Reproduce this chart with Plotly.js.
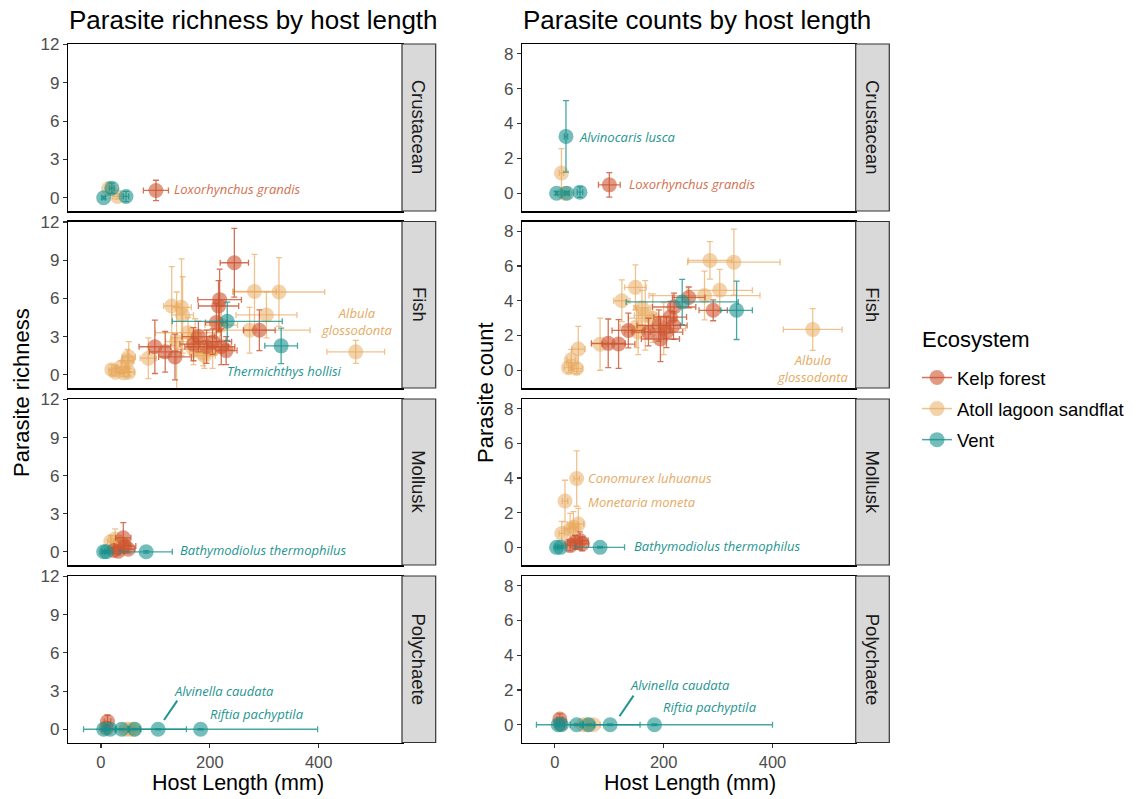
<!DOCTYPE html>
<html>
<head>
<meta charset="utf-8">
<script src="https://cdn.plot.ly/plotly-3.0.1.min.js"></script>
<style>html,body{margin:0;padding:0;background:#fff;}#chart{width:1138px;height:799px;}</style>
</head>
<body>
<div id="chart"></div>
<script>
// ---------------- DATA ----------------
const facets = ['Crustacean', 'Fish', 'Mollusk', 'Polychaete'];
const ecosystems = ['Kelp forest', 'Atoll lagoon sandflat', 'Vent'];
const xTickVals = [0, 200, 400];
const richTickVals = [0, 3, 6, 9, 12];
const countTickVals = [0, 2, 4, 6, 8];

// Parasite richness (left column)
const richKelpTaxon = ['Crustacean','Fish','Fish','Fish','Fish','Fish','Fish','Fish','Fish','Fish','Fish','Fish','Fish','Fish','Fish','Mollusk','Mollusk','Mollusk','Mollusk','Mollusk','Polychaete','Polychaete'];
const richKelpLen   = [101, 245, 218, 216, 212, 291, 99, 118, 136, 179, 194, 221, 205, 230, 170, 41, 32, 44, 24, 50, 12, 10];
const richKelpLenSD = [23, 26, 40, 37, 20, 29, 29, 29, 30, 30, 40, 25, 35, 20, 25, 14, 10, 20, 8, 12, 6, 5];
const richKelpVal   = [0.57, 8.8, 5.9, 5.4, 4.1, 3.5, 2.2, 1.8, 1.4, 3.0, 2.2, 2.2, 2.6, 1.9, 2.4, 1.1, 0.05, 0.45, 0.1, 0.2, 0.6, 0.1];
const richKelpSD    = [0.8, 2.7, 2.4, 2.0, 1.5, 1.6, 2.1, 1.6, 1.8, 1.2, 1.3, 1.4, 1.0, 1.1, 1.3, 1.2, 0.3, 0.4, 0.2, 0.3, 0.5, 0.2];

const richAtollTaxon = ['Crustacean','Crustacean','Fish','Fish','Fish','Fish','Fish','Fish','Fish','Fish','Fish','Fish','Fish','Fish','Fish','Fish','Fish','Fish','Fish','Fish','Fish','Fish','Fish','Fish','Fish','Fish','Mollusk','Mollusk','Mollusk','Mollusk','Mollusk','Polychaete','Polychaete','Polychaete'];
const richAtollLen   = [14, 30, 27, 42, 51, 37, 49, 51, 20, 87, 130, 148, 150, 139, 173, 170, 188, 205, 282, 327, 304, 273, 468, 221, 190, 160, 26, 35, 29, 42, 18, 53, 60, 45];
const richAtollLenSD = [5, 8, 8, 8, 10, 8, 10, 12, 6, 15, 15, 18, 20, 20, 45, 30, 25, 40, 40, 84, 56, 111, 53, 30, 20, 60, 8, 10, 8, 10, 6, 15, 12, 10];
const richAtollVal   = [0.7, 0.1, 0.2, 0.15, 0.2, 0.6, 1.1, 1.4, 0.4, 1.3, 5.4, 5.3, 4.7, 2.6, 2.9, 2.0, 1.7, 2.0, 6.55, 6.5, 4.7, 3.5, 1.8, 3.9, 1.5, 3.3, 1.0, 0.7, 0.3, 0.6, 0.8, 0, 0, 0];
const richAtollSD    = [0.5, 0.2, 0.3, 0.3, 0.3, 0.5, 0.9, 1.2, 0.4, 1.6, 3.1, 3.8, 3.0, 3.9, 1.5, 1.2, 1.0, 1.5, 2.9, 2.7, 1.8, 1.8, 0.9, 1.5, 1.0, 1.2, 0.8, 0.6, 0.4, 0.5, 0.5, 0.1, 0.1, 0.1];

const richVentTaxon = ['Crustacean','Crustacean','Crustacean','Fish','Fish','Mollusk','Mollusk','Mollusk','Polychaete','Polychaete','Polychaete','Polychaete','Polychaete','Polychaete'];
const richVentLen   = [5, 46, 20, 232, 331, 5, 83, 10, 5, 17, 38, 62, 105, 183];
const richVentLenSD = [3, 5, 4, 101, 30, 3, 48, 3, 3, 10, 12, 10, 52, 215];
const richVentVal   = [0, 0.1, 0.75, 4.2, 2.27, 0, 0, 0, 0, 0, 0, 0, 0, 0];
const richVentSD    = [0.1, 0.4, 0.4, 1.5, 1.4, 0.1, 0.1, 0.1, 0.05, 0.05, 0.05, 0.05, 0.05, 0.05];

// Parasite counts (right column)
const countKelpTaxon = ['Crustacean','Fish','Fish','Fish','Fish','Fish','Fish','Fish','Fish','Fish','Fish','Fish','Fish','Mollusk','Mollusk','Mollusk','Mollusk','Polychaete','Polychaete'];
const countKelpLen   = [100, 246, 219, 291, 212, 135, 98, 117, 194, 191, 218, 172, 205, 46, 28, 37, 50, 9, 10];
const countKelpLenSD = [20, 30, 40, 26, 30, 30, 31, 30, 35, 40, 25, 30, 30, 15, 8, 14, 12, 5, 4];
const countKelpVal   = [0.48, 4.19, 3.64, 3.45, 3.06, 2.29, 1.55, 1.51, 1.8, 2.58, 2.58, 2.2, 2.2, 0.39, 0.1, 0.29, 0.2, 0.33, 0.05];
const countKelpSD    = [0.7, 0.6, 0.8, 0.6, 0.9, 1.0, 1.4, 1.4, 1.3, 0.9, 0.8, 0.8, 0.9, 0.5, 0.3, 0.4, 0.4, 0.3, 0.1];

const countAtollTaxon = ['Crustacean','Crustacean','Fish','Fish','Fish','Fish','Fish','Fish','Fish','Fish','Fish','Fish','Fish','Fish','Fish','Fish','Fish','Fish','Fish','Fish','Mollusk','Mollusk','Mollusk','Mollusk','Mollusk','Mollusk','Polychaete','Polychaete','Polychaete'];
const countAtollLen   = [12, 18, 285, 329, 303, 275, 148, 123, 166, 150, 153, 474, 25, 40, 43, 30, 83, 180, 200, 160, 40, 18.5, 43, 28, 12.6, 34, 52, 71, 60];
const countAtollLenSD = [4, 6, 40, 85, 60, 102, 20, 15, 20, 30, 25, 54, 8, 10, 12, 8, 15, 45, 40, 15, 5, 5, 10, 10, 5, 8, 15, 12, 10];
const countAtollVal   = [1.16, 0, 6.32, 6.22, 4.6, 4.3, 4.77, 4.0, 3.16, 2.5, 2.2, 2.35, 0.15, 0.1, 1.22, 0.6, 1.5, 3.0, 2.4, 3.6, 3.97, 2.67, 1.35, 1.06, 0.8, 1.16, 0, 0, 0];
const countAtollSD    = [1.4, 0.1, 1.08, 1.9, 1.2, 1.4, 1.3, 1.2, 2.0, 1.2, 1.3, 1.2, 0.3, 0.3, 1.3, 0.6, 1.5, 1.4, 1.5, 1.0, 1.6, 1.2, 0.9, 0.9, 0.7, 0.9, 0.05, 0.05, 0.05];

const countVentTaxon = ['Crustacean','Crustacean','Crustacean','Crustacean','Fish','Fish','Mollusk','Mollusk','Mollusk','Polychaete','Polychaete','Polychaete','Polychaete','Polychaete','Polychaete'];
const countVentLen   = [20.3, 3, 46, 22, 234, 334, 3, 83, 10, 6, 12, 40, 62, 101.5, 183];
const countVentLenSD = [3, 2, 5, 4, 103, 29, 2, 45, 3, 3, 5, 12, 10, 55, 217];
const countVentVal   = [3.26, 0, 0.06, 0, 3.93, 3.45, 0, 0, 0, 0, 0, 0, 0, 0, 0];
const countVentSD    = [2.05, 0.1, 0.3, 0.1, 1.3, 1.68, 0.05, 0.05, 0.05, 0.05, 0.05, 0.05, 0.05, 0.05, 0.05];

// Species labels
const labelCol   = [0, 0, 0, 0, 0, 0, 1, 1, 1, 1, 1, 1, 1, 1];
const labelFacet = ['Crustacean','Fish','Fish','Mollusk','Polychaete','Polychaete','Crustacean','Crustacean','Fish','Mollusk','Mollusk','Mollusk','Polychaete','Polychaete'];
const labelText  = ['Loxorhynchus grandis','Albula<br>glossodonta','Thermichthys hollisi','Bathymodiolus thermophilus','Alvinella caudata','Riftia pachyptila','Alvinocaris lusca','Loxorhynchus grandis','Albula<br>glossodonta','Conomurex luhuanus','Monetaria moneta','Bathymodiolus thermophilus','Alvinella caudata','Riftia pachyptila'];
const labelX     = [130.5, 469, 227.5, 141.4, 130.5, 196.3, 40.6, 133, 474.4, 57.2, 57.2, 142, 134.8, 195.7];
const labelY     = [0.65, 4.2, 0.29, 0.18, 3.0, 1.2, 3.23, 0.53, 0.1, 3.98, 2.6, 0.07, 2.26, 1.0];
const labelEco   = ['Kelp forest','Atoll lagoon sandflat','Vent','Vent','Vent','Vent','Vent','Kelp forest','Atoll lagoon sandflat','Atoll lagoon sandflat','Atoll lagoon sandflat','Vent','Vent','Vent'];
const labelAlign = ['left','center','left','left','left','left','left','left','center','left','left','left','left','left'];
// leader segments for Alvinella caudata: [x0, y0, x1, y1] per column
const segRich  = [115.8, 0.73, 140.2, 2.25];
const segCount = [118.7, 0.49, 144.5, 1.68];

// ---------------- STYLE ----------------
const W = 1138, H = 799;
const colPx = [[68.3, 402], [522.3, 855.7]];
const stripPx = [[402, 435.7], [855.7, 889.3]];
const rowPx = [[44, 211], [221.5, 388], [399, 565], [576, 742.5]];
const markerCol = {'Kelp forest':'rgba(205,85,50,0.6)','Atoll lagoon sandflat':'rgba(232,168,90,0.5)','Vent':'rgba(24,145,140,0.6)'};
const errCol = {'Kelp forest':'rgba(200,80,45,0.8)','Atoll lagoon sandflat':'rgba(232,170,95,0.7)','Vent':'rgba(24,145,140,0.8)'};
const labelCol2 = {'Kelp forest':'#D4704F','Atoll lagoon sandflat':'#E6AA62','Vent':'#1E9590'};
const FONT = 'Liberation Sans, Arial, Helvetica, sans-serif';

const columns = [
  {ticks: richTickVals, range: [-1.04, 12.04], data: {
    'Kelp forest': [richKelpTaxon, richKelpLen, richKelpLenSD, richKelpVal, richKelpSD],
    'Atoll lagoon sandflat': [richAtollTaxon, richAtollLen, richAtollLenSD, richAtollVal, richAtollSD],
    'Vent': [richVentTaxon, richVentLen, richVentLenSD, richVentVal, richVentSD]}},
  {ticks: countTickVals, range: [-1.02, 8.56], data: {
    'Kelp forest': [countKelpTaxon, countKelpLen, countKelpLenSD, countKelpVal, countKelpSD],
    'Atoll lagoon sandflat': [countAtollTaxon, countAtollLen, countAtollLenSD, countAtollVal, countAtollSD],
    'Vent': [countVentTaxon, countVentLen, countVentLenSD, countVentVal, countVentSD]}}
];

const traces = [];
// legend-only traces
ecosystems.forEach(e => {
  traces.push({type:'scatter', mode:'lines+markers', x:[null], y:[null], name:e, showlegend:true, legendgroup:e,
    marker:{size:15, color:markerCol[e]}, line:{color:errCol[e], width:1.5}, xaxis:'x', yaxis:'y', hoverinfo:'skip'});
});

const layout = {
  width: W, height: H, margin:{l:0, r:0, t:0, b:0},
  paper_bgcolor:'#fff', plot_bgcolor:'#fff',
  font:{family: FONT, color:'#000'},
  showlegend:true,
  legend:{x: 917/W, y: 1 - 359/H, xanchor:'left', yanchor:'top', bgcolor:'rgba(0,0,0,0)',
    font:{size:18.5, color:'#000'}, tracegroupgap:4},
  shapes: [], annotations: []
};

const axName = (p, i) => p + (i === 1 ? '' : i);
const drawOrder = ['Atoll lagoon sandflat', 'Kelp forest', 'Vent'];

for (let c = 0; c < 2; c++) {
  for (let r = 0; r < 4; r++) {
    const idx = r * 2 + c + 1;
    const xd = [colPx[c][0] / W, colPx[c][1] / W];
    const yd = [1 - rowPx[r][1] / H, 1 - rowPx[r][0] / H];
    layout[axName('xaxis', idx)] = {
      domain: xd, anchor: axName('y', idx), range: [-60, 553], tickvals: xTickVals,
      showticklabels: r === 3, ticks: r === 3 ? 'outside' : '', ticklen: 4, tickwidth: 1.1, tickcolor: '#333',
      showline: true, mirror: true, linecolor: '#000', linewidth: 1.5,
      showgrid: false, zeroline: false, tickfont: {size: 16.5, color: '#4D4D4D'}, fixedrange: true
    };
    layout[axName('yaxis', idx)] = {
      domain: yd, anchor: axName('x', idx), range: columns[c].range, tickvals: columns[c].ticks,
      ticks: 'outside', ticklen: 4, tickwidth: 1.1, tickcolor: '#333',
      showline: true, mirror: true, linecolor: '#000', linewidth: 1.5,
      showgrid: false, zeroline: false, tickfont: {size: 17, color: '#4D4D4D'}, fixedrange: true
    };
    // strip
    layout.shapes.push({type:'rect', xref:'paper', yref:'paper', x0: stripPx[c][0]/W, x1: stripPx[c][1]/W,
      y0: yd[0], y1: yd[1], fillcolor:'#D9D9D9', line:{color:'#333', width:1.2}, layer:'above'});
    layout.annotations.push({xref:'paper', yref:'paper', x:(stripPx[c][0]+stripPx[c][1])/2/W, y:(yd[0]+yd[1])/2,
      text: facets[r], textangle: 90, showarrow:false, font:{size:18.5, color:'#1A1A1A'}, xanchor:'center', yanchor:'middle'});

    drawOrder.forEach(e => {
      const [tx, xl, xs, yv, ys] = columns[c].data[e];
      const ids = tx.map((t, i) => t === facets[r] ? i : -1).filter(i => i >= 0);
      if (!ids.length) return;
      traces.push({type:'scatter', mode:'markers', showlegend:false, name:e, legendgroup:e,
        x: ids.map(i => xl[i]), y: ids.map(i => yv[i]),
        error_x:{type:'data', array: ids.map(i => xs[i]), visible:true, color: errCol[e], thickness:1.3, width:3},
        error_y:{type:'data', array: ids.map(i => ys[i]), visible:true, color: errCol[e], thickness:1.3, width:3},
        marker:{size:15, color: markerCol[e], line:{width:0}},
        xaxis: axName('x', idx), yaxis: axName('y', idx), hoverinfo:'x+y'});
    });
  }
}

// species labels
labelText.forEach((t, i) => {
  const r = facets.indexOf(labelFacet[i]);
  const idx = r * 2 + labelCol[i] + 1;
  layout.annotations.push({xref: axName('x', idx), yref: axName('y', idx), x: labelX[i], y: labelY[i],
    text: '<i>' + t + '</i>', showarrow:false, xanchor: labelAlign[i], yanchor:'middle', align:'center',
    font:{family:'Open Sans, Noto Sans, sans-serif', size:13, color: labelCol2[labelEco[i]]}});
});
[[segRich, 7], [segCount, 8]].forEach(([s, idx]) => {
  layout.shapes.push({type:'line', xref: axName('x', idx), yref: axName('y', idx),
    x0: s[0], y0: s[1], x1: s[2], y1: s[3], line:{color:'#1E9590', width:2}});
});

// titles & axis titles
const addText = (text, px, py, size, angle, anchor) => layout.annotations.push({xref:'paper', yref:'paper',
  x: px / W, y: 1 - py / H, text, showarrow:false, textangle: angle || 0, xanchor: anchor || 'center', yanchor:'middle',
  font:{size, color:'#000'}});
addText('Parasite richness by host length', 67, 20, 26, 0, 'left');
addText('Parasite counts by host length', 521, 20, 26, 0, 'left');
addText('Host Length (mm)', 238, 783, 21.5);
addText('Host Length (mm)', 690, 783, 21.5);
addText('Parasite richness', 21, 393, 22, -90);
addText('Parasite count', 485, 393, 22, -90);
addText('Ecosystem', 920, 340, 22, 0, 'left');

Plotly.newPlot('chart', traces, layout, {displayModeBar:false, staticPlot:true});
</script>
</body>
</html>
